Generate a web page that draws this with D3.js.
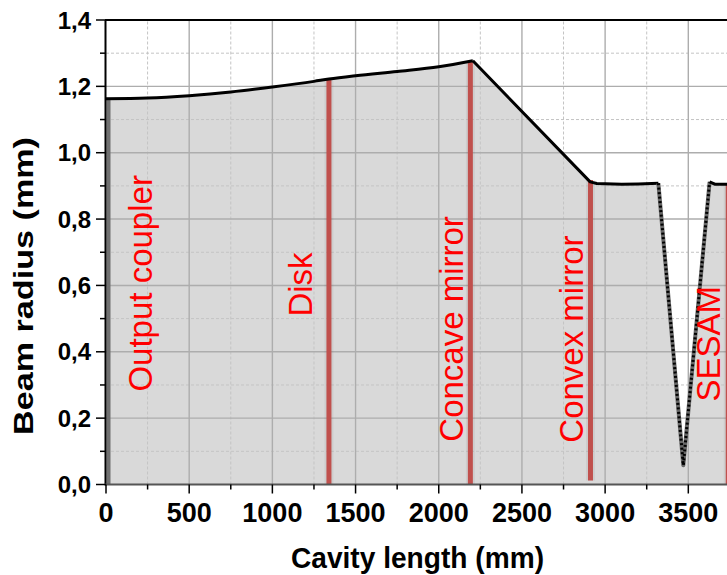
<!DOCTYPE html>
<html><head><meta charset="utf-8">
<script src="https://cdn.jsdelivr.net/npm/d3@7"></script>
<style>html,body{margin:0;padding:0;background:#fff;overflow:hidden}</style>
</head><body>
<svg id="c" width="727" height="575"></svg>
<script>
// ---- data ----
const curveX = [0, 250, 500, 750, 1000, 1250, 1340, 1500, 1750, 2000, 2205, 2910, 2950, 3100, 3200, 3320];
const curveY = [1.163, 1.165, 1.172, 1.183, 1.198, 1.215, 1.222, 1.232, 1.245, 1.259, 1.277, 0.912, 0.907, 0.905, 0.906, 0.908];
const dipX = [3320, 3470, 3628];
const dipY = [0.908, 0.058, 0.912];
const tailX = [3628, 3660, 3750];
const tailY = [0.912, 0.905, 0.905];
const markerNames = ["Disk", "Concave mirror", "Convex mirror", "SESAM"];
const markerX = [1340, 2190, 2912, 3740];
const markerTop = [1.223, 1.275, 0.918, 0.905];
const markerBottom = [0, 0, 0.012, 0];
const labelNames = ["Output coupler", "Disk", "Concave mirror", "Convex mirror", "SESAM"];
const labelX = [275, 1236, 2144, 2865, 3690];
const labelY = [0.28, 0.506, 0.129, 0.126, 0.25];
const couplerTop = 1.163;
const xTicks = [0, 500, 1000, 1500, 2000, 2500, 3000, 3500];
const xMinor = [250, 750, 1250, 1750, 2250, 2750, 3250, 3750];
const yTicks = [0, 0.2, 0.4, 0.6, 0.8, 1.0, 1.2, 1.4];
const yMinor = [0.1, 0.3, 0.5, 0.7, 0.9, 1.1, 1.3];

// ---- layout ----
const svg = d3.select("#c");
const x = d3.scaleLinear().domain([0, 3750]).range([106, 729.9]);
const y = d3.scaleLinear().domain([0, 1.4]).range([484.5, 20]);
const fmt = v => d3.format(".1f")(v).replace(".", ",");

const pts = [];
curveX.forEach((v, i) => pts.push([v, curveY[i]]));
dipX.slice(1).forEach((v, i) => pts.push([v, dipY[i + 1]]));
tailX.slice(1).forEach((v, i) => pts.push([v, tailY[i + 1]]));

// fill
svg.append("path")
  .attr("d", d3.area().x(d => x(d[0])).y0(y(0)).y1(d => y(d[1]))(pts))
  .attr("fill", "#d9d9d9");

// grid
const g = svg.append("g");
xMinor.forEach(v => g.append("line").attr("x1", x(v)).attr("x2", x(v)).attr("y1", y(0)).attr("y2", y(1.4))
  .attr("stroke", "#c4c4c4").attr("stroke-width", 1).attr("stroke-dasharray", "3,2"));
yMinor.forEach(v => g.append("line").attr("x1", x(0)).attr("x2", 727).attr("y1", y(v)).attr("y2", y(v))
  .attr("stroke", "#c4c4c4").attr("stroke-width", 1).attr("stroke-dasharray", "3,2"));
xTicks.slice(1).forEach(v => g.append("line").attr("x1", x(v)).attr("x2", x(v)).attr("y1", y(0)).attr("y2", y(1.4))
  .attr("stroke", "#adadad").attr("stroke-width", 1.4));
yTicks.slice(1, -1).forEach(v => g.append("line").attr("x1", x(0)).attr("x2", 727).attr("y1", y(v)).attr("y2", y(v))
  .attr("stroke", "#adadad").attr("stroke-width", 1.4));

// output coupler (gray bar)
svg.append("line").attr("x1", x(0) + 2.5).attr("x2", x(0) + 2.5).attr("y1", y(couplerTop)).attr("y2", y(0))
  .attr("stroke", "#707070").attr("stroke-width", 4);

// red markers with soft shadow
markerX.forEach((v, i) => {
  svg.append("line").attr("x1", x(v)).attr("x2", x(v)).attr("y1", y(markerTop[i])).attr("y2", y(markerBottom[i]))
    .attr("stroke", "#000").attr("stroke-opacity", 0.05).attr("stroke-width", 9);
  svg.append("line").attr("x1", x(v)).attr("x2", x(v)).attr("y1", y(markerTop[i])).attr("y2", y(markerBottom[i]))
    .attr("stroke", "#c0504d").attr("stroke-width", 5);
});

// curve
const line = d3.line().x(d => x(d[0])).y(d => y(d[1]));
const mainPts = curveX.map((v, i) => [v, curveY[i]]);
svg.append("path").attr("d", d3.line().curve(d3.curveMonotoneX).x(d => x(d[0])).y(d => y(d[1]))(mainPts.slice(0, 11)))
  .attr("fill", "none").attr("stroke", "#000").attr("stroke-width", 3);
svg.append("path").attr("d", line(mainPts.slice(10)))
  .attr("fill", "none").attr("stroke", "#000").attr("stroke-width", 3).attr("stroke-linejoin", "round");
const dipPts = dipX.map((v, i) => [v, dipY[i]]);
svg.append("path").attr("d", line(dipPts)).attr("fill", "none").attr("stroke", "#666").attr("stroke-width", 4).attr("stroke-linejoin", "round");
svg.append("path").attr("d", line(dipPts)).attr("fill", "none").attr("stroke", "#000").attr("stroke-width", 3).attr("stroke-dasharray", "2,2.5");
svg.append("path").attr("d", line(tailX.map((v, i) => [v, tailY[i]])))
  .attr("fill", "none").attr("stroke", "#000").attr("stroke-width", 3);

// axes lines
svg.append("line").attr("x1", x(0) - 1).attr("x2", 727).attr("y1", y(1.4)).attr("y2", y(1.4)).attr("stroke", "#000").attr("stroke-width", 2);
svg.append("line").attr("x1", x(0) - 0.5).attr("x2", x(0) - 0.5).attr("y1", y(1.4)).attr("y2", y(0) + 1).attr("stroke", "#000").attr("stroke-width", 2);
svg.append("line").attr("x1", x(0) - 1).attr("x2", 727).attr("y1", y(0)).attr("y2", y(0)).attr("stroke", "#555").attr("stroke-width", 2);

// ticks
yTicks.forEach(v => svg.append("line").attr("x1", x(0) - 10).attr("x2", x(0)).attr("y1", y(v)).attr("y2", y(v)).attr("stroke", "#000").attr("stroke-width", 1.5));
yMinor.forEach(v => svg.append("line").attr("x1", x(0) - 6).attr("x2", x(0)).attr("y1", y(v)).attr("y2", y(v)).attr("stroke", "#000").attr("stroke-width", 1.5));
xTicks.forEach(v => svg.append("line").attr("x1", x(v)).attr("x2", x(v)).attr("y1", y(0)).attr("y2", y(0) + 9).attr("stroke", "#000").attr("stroke-width", 1.5));
xMinor.forEach(v => svg.append("line").attr("x1", x(v)).attr("x2", x(v)).attr("y1", y(0)).attr("y2", y(0) + 5).attr("stroke", "#000").attr("stroke-width", 1.5));

// tick labels
yTicks.forEach(v => svg.append("text").text(fmt(v)).attr("x", 91).attr("y", y(v) + 8.5)
  .attr("text-anchor", "end").attr("font-family", "Liberation Sans, Arial, sans-serif").attr("font-weight", "bold").attr("font-size", 24).attr("fill", "#000"));
xTicks.forEach(v => svg.append("text").text(String(v)).attr("x", x(v)).attr("y", 521.5)
  .attr("text-anchor", "middle").attr("font-family", "Liberation Sans, Arial, sans-serif").attr("font-weight", "bold").attr("font-size", 27).attr("fill", "#000"));

// axis titles
svg.append("text").text("Cavity length (mm)").attr("x", 417.5).attr("y", 568)
  .attr("text-anchor", "middle").attr("font-family", "Liberation Sans, Arial, sans-serif").attr("font-weight", "bold").attr("font-size", 29)
  .attr("textLength", 253).attr("lengthAdjust", "spacingAndGlyphs");
svg.append("text").text("Beam radius (mm)").attr("transform", "translate(33,286) rotate(-90)")
  .attr("text-anchor", "middle").attr("font-family", "Liberation Sans, Arial, sans-serif").attr("font-weight", "bold").attr("font-size", 28)
  .attr("textLength", 298).attr("lengthAdjust", "spacingAndGlyphs");

// red labels
labelNames.forEach((t, i) => svg.append("text").text(t)
  .attr("transform", `translate(${x(labelX[i])},${y(labelY[i])}) rotate(-90)`)
  .attr("font-family", "Liberation Sans, Arial, sans-serif").attr("font-size", 33).attr("fill", "#ff0000"));
</script>
</body></html>
